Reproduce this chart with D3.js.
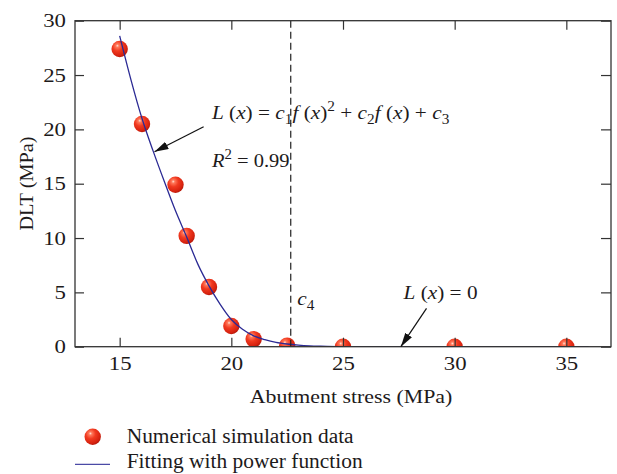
<!DOCTYPE html>
<html>
<head>
<meta charset="utf-8">
<script src="https://cdn.jsdelivr.net/npm/d3@7"></script>
<style>
  html, body { margin: 0; padding: 0; background: #fff; }
  svg { display: block; }
  svg text { font-family: "Liberation Serif", "Times New Roman", serif; }
</style>
</head>
<body>
<svg id="chart" width="617" height="474"></svg>
<script>
// ---------- data ----------
const xTicks = [15, 20, 25, 30, 35];
const yTicks = [0, 5, 10, 15, 20, 25, 30];
const simX = [15, 16, 17.5, 18, 19, 20, 21, 22.5, 25, 30, 35];
const simY = [27.4, 20.5, 14.9, 10.2, 5.5, 1.9, 0.7, 0.1, 0, 0, 0];
const fitX = [15, 15.5, 16, 16.5, 17, 17.5, 18, 18.5, 19, 19.5, 20, 20.5, 21, 21.5, 22, 22.5, 23, 23.5, 24, 25, 30, 36];
const fitY = [28.6, 24.6, 21.0, 18.0, 15.2, 12.5, 10.1, 7.6, 5.6, 3.9, 2.5, 1.6, 1.0, 0.65, 0.4, 0.25, 0.15, 0.08, 0.04, 0, 0, 0];
const c4 = 22.66;
const legendLabels = ["Numerical simulation data", "Fitting with power function"];
const xTitle = "Abutment stress (MPa)";
const yTitle = "DLT (MPa)";

// ---------- layout ----------
const svg = d3.select("#chart");
const L = 75, R = 611, T = 20.7, B = 346.7;
const x = d3.scaleLinear().domain([13, 37]).range([L, R]);
const y = d3.scaleLinear().domain([0, 30]).range([B, T]);
const ink = "#1d1a1b";
const SX = 1.12;

const defs = svg.append("defs");
const grad = defs.append("radialGradient").attr("id", "ball")
  .attr("cx", "38%").attr("cy", "34%").attr("r", "68%").attr("fx", "36%").attr("fy", "30%");
grad.append("stop").attr("offset", "0%").attr("stop-color", "#ffe2d6");
grad.append("stop").attr("offset", "14%").attr("stop-color", "#ff7a5c");
grad.append("stop").attr("offset", "45%").attr("stop-color", "#f13a20");
grad.append("stop").attr("offset", "85%").attr("stop-color", "#d6220f");
grad.append("stop").attr("offset", "100%").attr("stop-color", "#b5180a");
defs.append("clipPath").attr("id", "plotclip").append("rect")
  .attr("x", L).attr("y", T).attr("width", R - L).attr("height", B - T);
defs.append("marker").attr("id", "arrow").attr("viewBox", "0 0 14 8")
  .attr("refX", 14).attr("refY", 4).attr("markerWidth", 14).attr("markerHeight", 8)
  .attr("markerUnits", "userSpaceOnUse").attr("orient", "auto")
  .append("path").attr("d", "M0,0 L14,4 L0,8 Z").attr("fill", "#111");

const plot = svg.append("g").attr("clip-path", "url(#plotclip)");

// markers
plot.selectAll("circle.sim").data(simX.map((d, i) => [d, simY[i]])).join("circle")
  .attr("class", "sim")
  .attr("cx", d => x(d[0])).attr("cy", d => y(d[1])).attr("r", 8.2)
  .attr("fill", "url(#ball)");

// fitted curve
const line = d3.line().x(d => x(d[0])).y(d => y(d[1])).curve(d3.curveMonotoneX);
plot.append("path").datum(fitX.map((d, i) => [d, fitY[i]]))
  .attr("d", line).attr("fill", "none").attr("stroke", "#2b2a94").attr("stroke-width", 1.3);

// dashed c4 line
svg.append("line").attr("x1", x(c4)).attr("x2", x(c4)).attr("y1", y(30)).attr("y2", y(0))
  .attr("stroke", "#222").attr("stroke-width", 1.2).attr("stroke-dasharray", "7,4");

// axes (inward ticks)
const gB = svg.append("g").attr("transform", `translate(0,${B})`)
  .call(d3.axisBottom(x).tickValues(xTicks).tickSizeInner(-9).tickSizeOuter(0).tickPadding(0));
const gLft = svg.append("g").attr("transform", `translate(${L},0)`)
  .call(d3.axisLeft(y).tickValues(yTicks).tickSizeInner(-9).tickSizeOuter(0).tickPadding(0));
svg.append("g").attr("transform", `translate(0,${T})`)
  .call(d3.axisTop(x).tickValues(xTicks).tickSizeInner(-9).tickSizeOuter(0).tickFormat(""));
svg.append("g").attr("transform", `translate(${R},0)`)
  .call(d3.axisRight(y).tickValues(yTicks).tickSizeInner(-10).tickSizeOuter(0).tickFormat(""));
svg.selectAll(".domain").remove();
svg.selectAll(".tick line").attr("stroke", "#333").attr("stroke-width", 1.2);
svg.selectAll("g[font-family]").attr("font-family", null);

const TSX = 1.2, TFS = 19;
gB.selectAll(".tick text").attr("y", null).attr("dy", null)
  .attr("transform", `translate(0,${370.3 - B}) scale(${TSX},1)`)
  .attr("font-size", TFS).attr("fill", ink);
gLft.selectAll(".tick text").attr("x", null).attr("dy", "0.33em")
  .attr("transform", `translate(-9,0) scale(${TSX},1)`)
  .attr("font-size", TFS).attr("fill", ink);

// frame
svg.append("rect").attr("x", L).attr("y", T).attr("width", R - L).attr("height", B - T)
  .attr("fill", "none").attr("stroke", "#333").attr("stroke-width", 1.3);

// ---------- text helpers ----------
function richText(px, py, parts, opts = {}) {
  const size = opts.size || 19;
  const t = svg.append("text")
    .attr("transform", `translate(${px},${py})${opts.rotate ? " rotate(" + opts.rotate + ")" : ""} scale(${opts.sx || SX},1)`)
    .attr("font-size", size).attr("fill", ink)
    .attr("text-anchor", opts.anchor || "start");
  let shift = 0;
  parts.forEach(p => {
    const s = t.append("tspan").text(p.t);
    if (p.i) s.attr("font-style", "italic");
    let target = 0;
    if (p.sub) { s.attr("font-size", size * 0.72); target = 5; }
    if (p.sup) { s.attr("font-size", size * 0.72); target = -8; }
    if (target !== shift) { s.attr("dy", target - shift); shift = target; }
  });
  return t;
}

// axis titles
richText(351, 403.3, [{ t: xTitle }], { anchor: "middle", sx: 1.15 });
richText(33, 183.5, [{ t: yTitle }], { anchor: "middle", rotate: -90, sx: 1.07 });

// annotations
richText(x(19.13), y(20.95), [
  { t: "L", i: 1 }, { t: " (" }, { t: "x", i: 1 }, { t: ") = " },
  { t: "c", i: 1 }, { t: "1", sub: 1 }, { t: "f", i: 1 }, { t: " (" }, { t: "x", i: 1 }, { t: ")" }, { t: "2", sup: 1 },
  { t: " + " }, { t: "c", i: 1 }, { t: "2", sub: 1 }, { t: "f", i: 1 }, { t: " (" }, { t: "x", i: 1 }, { t: ")" },
  { t: " + " }, { t: "c", i: 1 }, { t: "3", sub: 1 }
]);
richText(x(19.13), y(16.56), [{ t: "R", i: 1 }, { t: "2", sup: 1 }, { t: " = 0.99" }], { sx: 1.08 });
richText(x(22.95), y(3.84), [{ t: "c", i: 1 }, { t: "4", sub: 1 }]);
richText(x(27.71), y(4.39), [{ t: "L", i: 1 }, { t: " (" }, { t: "x", i: 1 }, { t: ") = 0" }]);

// arrows
svg.append("line").attr("x1", x(18.76)).attr("y1", y(20.24)).attr("x2", x(16.56)).attr("y2", y(17.94))
  .attr("stroke", "#111").attr("stroke-width", 1.2).attr("marker-end", "url(#arrow)");
svg.append("line").attr("x1", x(28.74)).attr("y1", y(3.53)).attr("x2", x(27.59)).attr("y2", y(0))
  .attr("stroke", "#111").attr("stroke-width", 1.2).attr("marker-end", "url(#arrow)");

// legend
svg.append("circle").attr("cx", 92.7).attr("cy", 436.7).attr("r", 8.2).attr("fill", "url(#ball)");
svg.append("line").attr("x1", 75).attr("x2", 110).attr("y1", 464.3).attr("y2", 464.3)
  .attr("stroke", "#4b4aa6").attr("stroke-width", 1.3);
richText(126.7, 442.7, [{ t: legendLabels[0] }], { size: 20, sx: 1.07 });
richText(126.7, 468.3, [{ t: legendLabels[1] }], { size: 20, sx: 1.07 });
</script>
</body>
</html>
